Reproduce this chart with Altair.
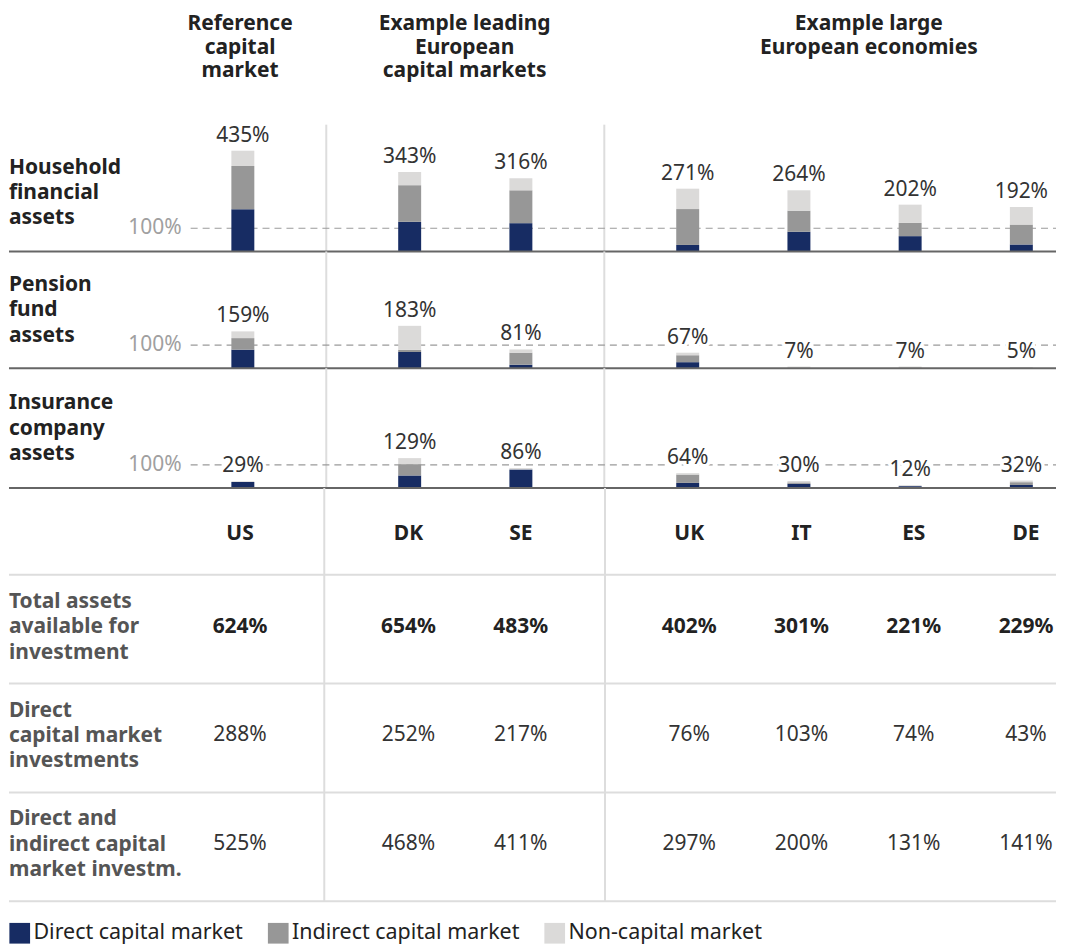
import altair as alt
import pandas as pd

# ---------------- data ----------------
countries = ["US", "DK", "SE", "UK", "IT", "ES", "DE"]
slots = [0, 1.5, 2.5, 4, 5, 6, 7]          # column positions (gaps between groups)
separators = [0.75, 3.25]                   # group dividers

group_labels = ["Reference\ncapital\nmarket",
                "Example leading\nEuropean\ncapital markets",
                "Example large\nEuropean economies"]
group_slots = [0, 2.0, 5.6]

components = ["Direct capital market", "Indirect capital market", "Non-capital market"]
component_colors = ["#172c63", "#979797", "#dbdad9"]

rows = ["household", "pension", "insurance"]
row_labels = ["Household\nfinancial\nassets", "Pension\nfund\nassets", "Insurance\ncompany\nassets"]

household_direct = [182, 128, 122, 28, 85, 66, 30]
household_indirect = [187, 158, 142, 155, 91, 57, 86]
household_noncap = [66, 57, 52, 88, 88, 79, 76]
household_total = [435, 343, 316, 271, 264, 202, 192]

pension_direct = [80, 70, 15, 26, 0, 0, 0]
pension_indirect = [50, 9, 52, 30, 0, 0, 0]
pension_noncap = [29, 104, 14, 11, 7, 7, 5]
pension_total = [159, 183, 81, 67, 7, 7, 5]

insurance_direct = [26, 54, 80, 22, 18, 8, 13]
insurance_indirect = [0, 49, 0, 36, 6, 0, 12]
insurance_noncap = [3, 26, 6, 6, 6, 4, 7]
insurance_total = [29, 129, 86, 64, 30, 12, 32]

table_labels = ["Total assets\navailable for\ninvestment",
                "Direct\ncapital market\ninvestments",
                "Direct and\nindirect capital\nmarket investm."]
total_assets = [624, 654, 483, 402, 301, 221, 229]
direct_cm = [288, 252, 217, 76, 103, 74, 43]
direct_indirect_cm = [525, 468, 411, 297, 200, 131, 141]

reference_level = 100

# ---------------- tables ----------------
series = {
    "household": [household_direct, household_indirect, household_noncap, household_total],
    "pension": [pension_direct, pension_indirect, pension_noncap, pension_total],
    "insurance": [insurance_direct, insurance_indirect, insurance_noncap, insurance_total],
}
bar_records, total_records = [], []
for r in rows:
    d, i, n, t = series[r]
    for k, c in enumerate(countries):
        for o, (comp, vals) in enumerate(zip(components, [d, i, n])):
            bar_records.append({"row": r, "country": c, "slot": slots[k],
                                "component": comp, "order": o, "value": vals[k]})
        total_records.append({"row": r, "country": c, "slot": slots[k],
                              "total": t[k], "label": f"{t[k]}%"})
bars_df = pd.DataFrame(bar_records)
totals_df = pd.DataFrame(total_records)
sep_df = pd.DataFrame({"slot": separators})
ref_df = pd.DataFrame({"ref": [reference_level], "ref_label": [f"{reference_level}%"]})
zero_df = pd.DataFrame({"zero": [0]})
groups_df = pd.DataFrame({"slot": group_slots, "label": group_labels})
country_df = pd.DataFrame({"slot": slots, "country": countries})
one_df = pd.DataFrame({"a": [0]})

# ---------------- layout / style ----------------
FONT = "Noto Sans"
FS = 21
W = 1049
UNIT = 112.5
ORIGIN = 231.5
x_domain = [-ORIGIN / UNIT, (W - ORIGIN) / UNIT]
PX_PER_PCT = 0.232
SEP_COLOR = "#dddddd"

X = alt.X("slot:Q", scale=alt.Scale(domain=x_domain, nice=False, zero=False), axis=None)
LEGEND = alt.Legend(orient="bottom", direction="horizontal", title=None,
                    symbolType="square", symbolSize=430, symbolStrokeWidth=0,
                    symbolOpacity=1, labelFontSize=21.5, labelColor="#222222",
                    labelFont=FONT, labelOffset=3, columnPadding=24, offset=20,
                    labelLimit=0)
COLOR = alt.Color("component:N", scale=alt.Scale(domain=components, range=component_colors),
                  legend=LEGEND)


def separators_layer(top, height):
    return alt.Chart(sep_df).mark_rule(color=SEP_COLOR, strokeWidth=2).encode(
        x=X, y=alt.value(top), y2=alt.value(height))


def hline(y, color, width):
    return alt.Chart(one_df).mark_rule(color=color, strokeWidth=width).encode(
        x=alt.value(0), x2=alt.value(W), y=alt.value(y))


def row_label(text, top, color="#222222"):
    return alt.Chart(pd.DataFrame({"t": [text]})).mark_text(
        align="left", baseline="top", fontSize=FS, fontWeight="bold", font=FONT,
        color=color, lineBreak="\n", lineHeight=25.5).encode(
        x=alt.value(0), y=alt.value(top), text="t:N")


def bar_panel(row, label, height, label_top, sep_top):
    yscale = alt.Scale(domain=[0, height / PX_PER_PCT], nice=False, zero=True)
    bdata = bars_df[bars_df.row == row]
    tdata = totals_df[totals_df.row == row]
    ref = alt.Chart(ref_df).mark_rule(color="#9a9a9a", strokeWidth=1.2, strokeDash=[7, 5]).encode(
        y=alt.Y("ref:Q", scale=yscale, axis=None), x=alt.value(182), x2=alt.value(W))
    reflab = alt.Chart(ref_df).mark_text(align="right", baseline="middle", fontSize=FS,
                                         color="#a0a0a0", font=FONT).encode(
        y=alt.Y("ref:Q", scale=yscale, axis=None), x=alt.value(173), text="ref_label:N")
    barl = alt.Chart(bdata).mark_bar(size=23).encode(
        x=X, y=alt.Y("value:Q", stack="zero", scale=yscale, axis=None),
        color=COLOR, order=alt.Order("order:Q"))
    base = alt.Chart(zero_df).mark_rule(color="#666666", strokeWidth=2).encode(
        y=alt.Y("zero:Q", scale=yscale, axis=None), x=alt.value(0), x2=alt.value(W))
    halo = alt.Chart(tdata).mark_text(baseline="bottom", dy=-5, fontSize=FS, font=FONT,
                                      fill="white", stroke="white", strokeWidth=7,
                                      strokeJoin="round").encode(
        x=X, y=alt.Y("total:Q", scale=yscale, axis=None), text="label:N")
    lab = alt.Chart(tdata).mark_text(baseline="bottom", dy=-5, fontSize=FS, font=FONT,
                                     color="#333333").encode(
        x=X, y=alt.Y("total:Q", scale=yscale, axis=None), text="label:N")
    return alt.layer(separators_layer(sep_top, height), ref, reflab, barl, base, halo, lab,
                     row_label(label, label_top)).properties(width=W, height=height)


# header
HEADER_H = 102
header = alt.layer(
    alt.Chart(groups_df).mark_text(align="center", baseline="top", fontSize=FS, fontWeight="bold",
                                   font=FONT, color="#222222", lineBreak="\n", lineHeight=23.5).encode(
        x=X, y=alt.value(4.5), text="label:N")
).properties(width=W, height=HEADER_H)

household = bar_panel("household", row_labels[0], 141, 46, 14)
pension = bar_panel("pension", row_labels[1], 117, 22.5, 0)
insurance = bar_panel("insurance", row_labels[2], 120, 24, 0)

COUNTRY_H = 87
country_row = alt.layer(
    separators_layer(0, COUNTRY_H),
    alt.Chart(country_df).mark_text(align="center", baseline="middle", fontSize=FS,
                                    fontWeight="bold", font=FONT, color="#222222").encode(
        x=X, y=alt.value(46), text="country:N")
).properties(width=W, height=COUNTRY_H)

TABLE_H = 109


def table_panel(label, values, bold, last=False):
    df = pd.DataFrame({"slot": slots, "txt": [f"{v}%" for v in values]})
    layers = [separators_layer(0, TABLE_H), hline(0, SEP_COLOR, 2)]
    if last:
        layers.append(hline(TABLE_H, SEP_COLOR, 2))
    layers.append(row_label(label, 16, color="#555555"))
    layers.append(alt.Chart(df).mark_text(align="center", baseline="middle", fontSize=FS,
                                          fontWeight="bold" if bold else "normal", font=FONT,
                                          color="#222222" if bold else "#333333").encode(
        x=X, y=alt.value(52), text="txt:N"))
    return alt.layer(*layers).properties(width=W, height=TABLE_H)


t1 = table_panel(table_labels[0], total_assets, True)
t2 = table_panel(table_labels[1], direct_cm, False)
t3 = table_panel(table_labels[2], direct_indirect_cm, False, last=True)

chart = alt.vconcat(header, household, pension, insurance, country_row, t1, t2, t3,
                    spacing=0, bounds="flush").resolve_scale(color="shared").properties(
    padding=0).configure(font=FONT).configure_view(stroke="transparent", strokeWidth=0)

chart.save("out.html", embed_options={"renderer": "svg", "actions": False})
